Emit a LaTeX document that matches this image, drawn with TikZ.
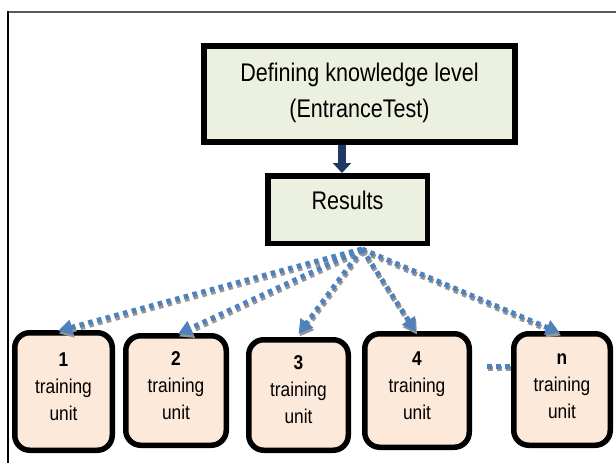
\documentclass[tikz,border=0pt]{standalone}
\usepackage{fontspec}
\setmainfont{Liberation Sans}
\newfontfamily\headsans[FakeStretch=0.845]{Liberation Sans}
\newfontfamily\unitsans[FakeStretch=0.865]{Liberation Sans}
\usetikzlibrary{arrows.meta}
\definecolor{boxgreen}{RGB}{235,241,222}
\definecolor{unitfill}{RGB}{253,233,217}
\definecolor{navyarrow}{RGB}{31,56,100}
\definecolor{dotblue}{RGB}{79,129,189}
\definecolor{dotshadow}{RGB}{150,150,150}
\definecolor{framegray}{RGB}{90,90,90}
\tikzset{
  headbox/.style={draw=black, line width=6pt, fill=boxgreen, inner sep=0pt, align=center,
    font=\headsans\fontsize{25.5}{36}\selectfont},
  resbox/.style={draw=black, line width=5.5pt, fill=boxgreen, inner sep=0pt,
    font=\headsans\fontsize{25.5}{36}\selectfont, text height=10pt, text depth=10.8pt},
  unitbox/.style={draw=black, line width=5.5pt, fill=unitfill, rounded corners=15pt, inner sep=0pt,
    align=center, font=\unitsans\fontsize{20}{27}\selectfont, text height=61pt, text depth=3.4pt},
  navyline/.style={draw=navyarrow, line width=8pt, -{Triangle[length=10pt,width=18pt]}},
  dotline/.style={line width=5pt, dash pattern=on 4.5pt off 4.5pt, -{Triangle[length=14pt,width=15pt]}},
  dotplain/.style={line width=5pt, dash pattern=on 4.5pt off 4.5pt},
  shadowshift/.style={transform canvas={shift={(1pt,-2.5pt)}}}
}
\begin{document}
\begin{tikzpicture}[x=1pt,y=-1pt]
\useasboundingbox[fill=white] (0,0) rectangle (616,463);
% frame
\draw[framegray, line width=2pt] (7.5,12) -- (616,12);
\draw[black, line width=1.3pt] (8,11) -- (8,463);
% boxes
\node[headbox, minimum width=311pt, minimum height=96pt, text height=51.4pt, text depth=4.2pt]
  (top) at (359.5,94) {Defining knowledge level\\(EntranceTest)};
\node[resbox, minimum width=159.5pt, minimum height=67.5pt] (res) at (347.5,209.5) {Results};
\node[unitbox, minimum width=97.5pt,  minimum height=117.5pt] (u1) at (63.5,391.5) {\textbf{1}\\training\\unit};
\node[unitbox, minimum width=100.5pt, minimum height=109.5pt] (u2) at (176,390.5) {\textbf{2}\\training\\unit};
\node[unitbox, minimum width=99.5pt,  minimum height=110.5pt] (u3) at (298.5,395) {\textbf{3}\\training\\unit};
\node[unitbox, minimum width=104.5pt, minimum height=113.5pt] (u4) at (417,390.5) {\textbf{4}\\training\\unit};
\node[unitbox, minimum width=96.5pt,  minimum height=111.5pt] (un) at (562,389.5) {\textbf{n}\\training\\unit};
% navy arrow
\draw[navyline] ([xshift=-17.5pt]top.south) -- ([xshift=-5.5pt]res.north);
% fan of dotted arrows
\coordinate (src) at ([xshift=14.5pt,yshift=-3pt]res.south);
\coordinate (dd) at (487,366);
\foreach \tgt/\dx/\dy in {u1/-5.5/-1, u2/2/-1, u3/0/3, u4/-1/-1, un/-2/-2} {
  \draw[dotline, dotshadow, shadowshift] (src) -- ([xshift=\dx pt,yshift=\dy pt]\tgt.north);
}
\draw[dotplain, dotshadow, shadowshift] (dd) -- (dd -| un.west);
\foreach \tgt/\dx/\dy in {u1/-5.5/-1, u2/2/-1, u3/0/3, u4/-1/-1, un/-2/-2} {
  \draw[dotline, dotblue] (src) -- ([xshift=\dx pt,yshift=\dy pt]\tgt.north);
}
\draw[dotplain, dotblue] (dd) -- (dd -| un.west);
\end{tikzpicture}
\end{document}
